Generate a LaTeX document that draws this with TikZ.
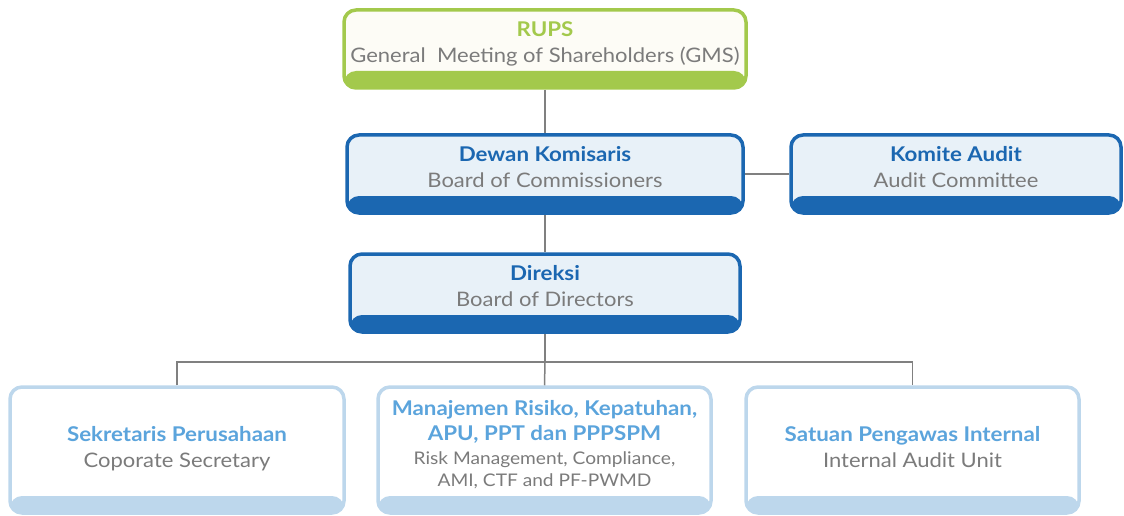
\documentclass[tikz,border=0pt]{standalone}
\usepackage{fontspec}
\setmainfont{Lato}[FakeStretch=1.1]
\usetikzlibrary{positioning}

\definecolor{rupsgreen}{HTML}{A3C94C}
\definecolor{rupsfill}{HTML}{FDFCF6}
\definecolor{deepblue}{HTML}{1B67B1}
\definecolor{paleblue}{HTML}{E8F1F8}
\definecolor{softblue}{HTML}{BDD7EC}
\definecolor{skyblue}{HTML}{5BA4DC}
\definecolor{greytext}{HTML}{7B7B7B}
\definecolor{linkgrey}{HTML}{808080}

\tikzset{
  box/.style={draw=#1, line width=3.5pt, rounded corners=12pt, align=center, inner sep=0pt,
    font=\fontsize{20}{26}\selectfont, text depth=14pt,
    path picture={\fill[#1] (path picture bounding box.south west) rectangle
      ([yshift=17pt]path picture bounding box.south east);}},
  unit/.style={box=softblue, fill=white, minimum width=333pt, minimum height=126pt, text depth=6pt},
  link/.style={draw=linkgrey, line width=1.5pt},
}
\newcommand{\ttl}[2]{{\color{#1}\fontsize{20.3}{26}\selectfont\bfseries #2}}
\newcommand{\sub}[1]{{\color{greytext}#1}}
\newcommand{\subsmall}[1]{{\color{greytext}\fontsize{17.4}{22}\selectfont #1}}

\begin{document}
\begin{tikzpicture}[x=1pt,y=-1pt]
\useasboundingbox (0,0) rectangle (1124,516);

% top of the chart
\node[box=rupsgreen, fill=rupsfill, minimum width=402pt, minimum height=78pt] (rups) at (545,49)
  {\ttl{rupsgreen}{RUPS}\\\sub{General\ \ Meeting of Shareholders (GMS)}};
\node[box=deepblue, fill=paleblue, minimum width=396pt, minimum height=78pt] (dk) at (545,174)
  {\ttl{deepblue}{Dewan Komisaris}\\\sub{Board of Commissioners}};
\node[box=deepblue, fill=paleblue, minimum width=330pt, minimum height=78pt] (ka) at (956,174)
  {\ttl{deepblue}{Komite Audit}\\\sub{Audit Committee}};
\node[box=deepblue, fill=paleblue, minimum width=390pt, minimum height=78pt] (dir) at (545,293)
  {\ttl{deepblue}{Direksi}\\\sub{Board of Directors}};

% units under the directors
\node[unit, minimum width=334pt] (sek) at (177,450)
  {\ttl{skyblue}{Sekretaris Perusahaan}\\\sub{Coporate Secretary}};
\node[unit, text depth=13.5pt] (mr) at (544.5,450)
  {\ttl{skyblue}{Manajemen Risiko, Kepatuhan,}\\[-1pt]\ttl{skyblue}{APU, PPT dan PPPSPM}\\[-2pt]
   \subsmall{Risk Management, Compliance,}\\[-4pt]\subsmall{AMI, CTF and PF-PWMD}};
\node[unit] (spi) at (912.5,450)
  {\ttl{skyblue}{Satuan Pengawas Internal}\\\sub{Internal Audit Unit}};

\coordinate (bus) at (545,362);
\draw[link] (rups) -- (dk);
\draw[link] (dk) -- (dir);
\draw[link] (dk) -- (ka);
\draw[link] (dir) -- (bus);
\draw[link] (sek.north) |- (bus) -| (spi.north);
\draw[link] (bus) -- (mr.north);
\end{tikzpicture}
\end{document}
